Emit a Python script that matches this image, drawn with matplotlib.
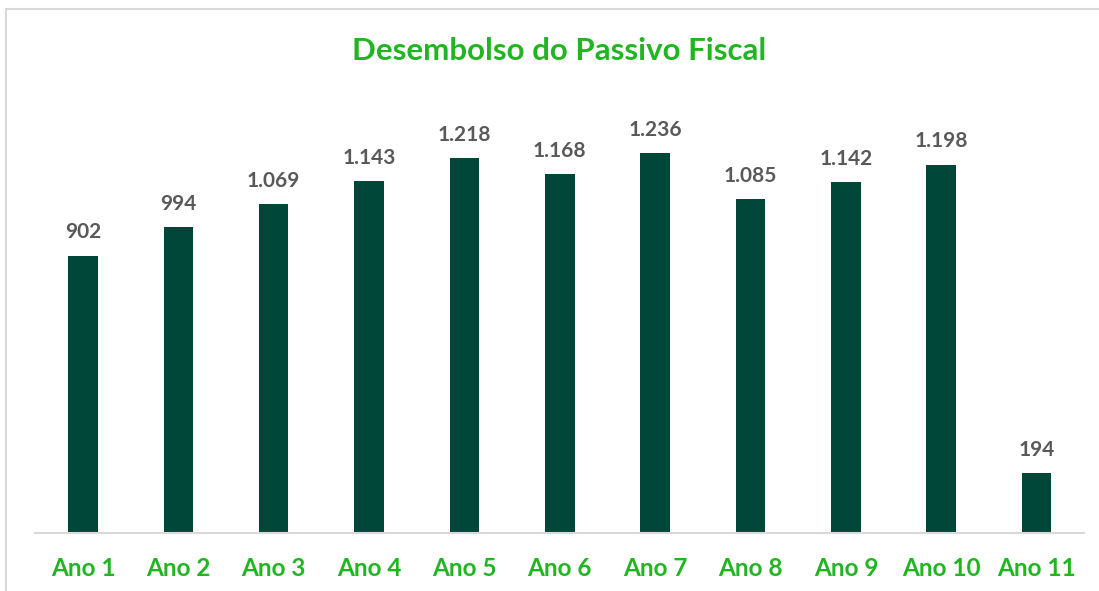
import matplotlib
matplotlib.use("Agg")
import matplotlib.pyplot as plt
from matplotlib.patches import Rectangle

categories = ["Ano 1", "Ano 2", "Ano 3", "Ano 4", "Ano 5", "Ano 6", "Ano 7", "Ano 8", "Ano 9", "Ano 10", "Ano 11"]
values = [902, 994, 1069, 1143, 1218, 1168, 1236, 1085, 1142, 1198, 194]
labels = ["902", "994", "1.069", "1.143", "1.218", "1.168", "1.236", "1.085", "1.142", "1.198", "194"]

W, H = 1099, 591
fig = plt.figure(figsize=(W / 100, H / 100), dpi=100)
plt.rcParams['font.family'] = ['Lato', 'DejaVu Sans']

# outer chart border (left/top light gray)
fig.patches.append(Rectangle((6 / W, -0.1), 1.2, (591 - 9) / H + 0.1, transform=fig.transFigure,
                             fill=False, edgecolor="#D9D9D9", linewidth=1.5))

ax = fig.add_axes([35.3 / W, 1 - 533 / H, 1049 / W, 433 / H])
x = range(len(categories))
ax.bar(x, values, width=0.31, color="#00473A")
ax.set_xlim(-0.5, len(categories) - 0.5)
ax.set_ylim(0, 1408)
for s in ["top", "right", "left"]:
    ax.spines[s].set_visible(False)
ax.spines["bottom"].set_color("#D9D9D9")
ax.spines["bottom"].set_linewidth(1.5)
ax.set_yticks([])
ax.set_xticks(list(x))
ax.set_xticklabels(categories, fontsize=17.5, fontweight="bold", color="#22B522")
ax.tick_params(axis="x", length=0, pad=17)
for xi, v, lab in zip(x, values, labels):
    ax.annotate(lab, (xi, v), xytext=(0, 9.5), textcoords="offset points", ha="center", va="bottom",
                fontsize=15, fontweight="bold", color="#595959")

fig.text(559 / W, 1 - 51 / H, "Desembolso do Passivo Fiscal", ha="center", va="center",
         fontsize=22.5, fontweight="bold", color="#22B522")

fig.savefig("out.png", dpi=100)
